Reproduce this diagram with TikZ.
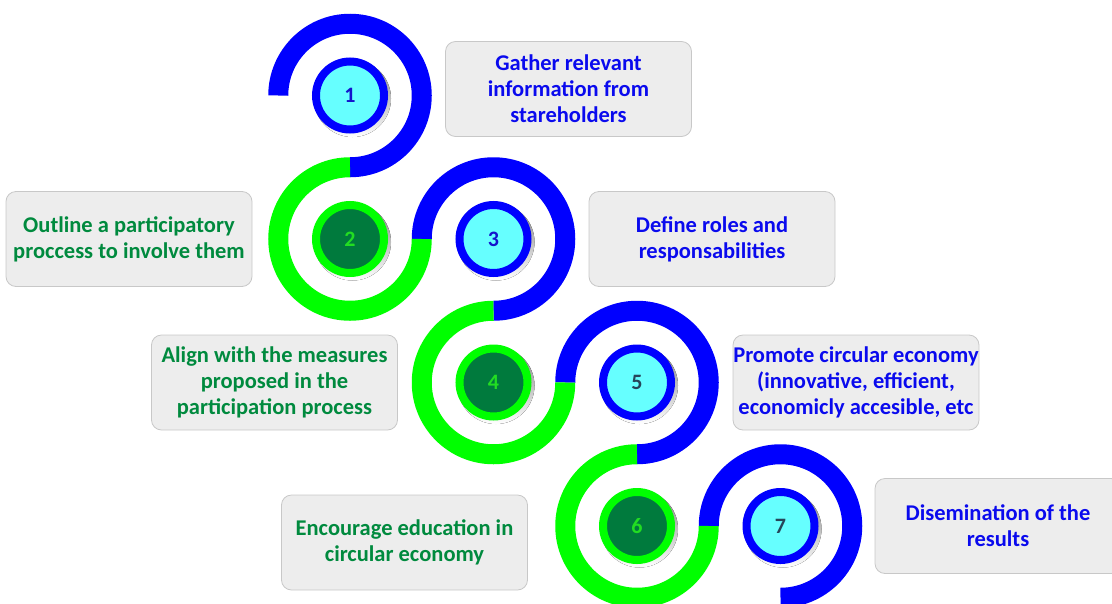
\documentclass[tikz,border=0pt]{standalone}
\usepackage{fontspec}
\setmainfont{Carlito}
\usetikzlibrary{calc}
\definecolor{ringblue}{HTML}{0000FF}
\definecolor{ringgreen}{HTML}{00FF00}
\definecolor{discblue}{HTML}{66FFFF}
\definecolor{discgreen}{HTML}{007A3D}
\definecolor{txtblue}{HTML}{0A0AEE}
\definecolor{txtgreen}{HTML}{008A3E}
\definecolor{numblue}{HTML}{1414CC}
\definecolor{numslate}{HTML}{26465A}
\definecolor{numgreen}{HTML}{22DD22}
\definecolor{boxfill}{HTML}{EDEDED}
\definecolor{boxline}{HTML}{C8C8C8}
\definecolor{shade}{HTML}{BDBDBD}
\begin{document}
\begin{tikzpicture}[x=1pt,y=1pt,
  band/.style={line width=20pt},
  numdisc/.style={circle, minimum size=68pt, inner sep=0pt, line width=8pt,
    font=\fontsize{22}{24}\selectfont\bfseries},
  oddnum/.style={numdisc, draw=ringblue, fill=discblue},
  evennum/.style={numdisc, draw=ringgreen, fill=discgreen, text=numgreen},
  infobox/.style={rounded corners=10pt, draw=boxline, line width=0.8pt,
    fill=boxfill, minimum width=246pt, minimum height=95pt, align=center,
    inner sep=0pt, font=\fontsize{22.5}{26}\selectfont\bfseries},
  bluetext/.style={infobox, text=txtblue},
  greentext/.style={infobox, text=txtgreen},
]
\useasboundingbox (0,0) rectangle (1112,-603);
\def\r{71.75}

% centres of the numbered discs
\coordinate (c1) at (350,-95.5);
\coordinate (c2) at (350,-239);
\coordinate (c3) at (493.5,-239);
\coordinate (c4) at (493.5,-382.5);
\coordinate (c5) at (637,-382.5);
\coordinate (c6) at (637,-526);
\coordinate (c7) at (780.5,-526);

% soft shadows under the discs
\foreach \i in {1,...,7}
  \fill[shade] ([shift={(2.5,-3)}]c\i) circle (38.5);

% numbered discs
\node[oddnum, text=numblue]  (n1) at (c1) {1};
\node[evennum]               (n2) at (c2) {2};
\node[oddnum, text=numblue]  (n3) at (c3) {3};
\node[evennum]               (n4) at (c4) {4};
\node[oddnum, text=numslate] (n5) at (c5) {5};
\node[evennum]               (n6) at (c6) {6};
\node[oddnum, text=numslate] (n7) at (c7) {7};

% the winding band: blue arcs turn clockwise, green arcs counter-clockwise
\foreach \i in {1,3,5,7}
  \draw[band, ringblue] ($(n\i)+(-\r,0)$) arc[start angle=180, end angle=-90, radius=\r];
\foreach \i in {2,4,6}
  \draw[band, ringgreen] ($(n\i)+(0,\r)$) arc[start angle=90, end angle=360, radius=\r];

% step descriptions
\node[bluetext]  (b1) at (568.5,-89)  {Gather relevant\\information from\\stareholders};
\node[greentext] (b2) at (129,-239)   {Outline a participatory\\proccess to involve them};
\node[bluetext]  (b3) at (712,-239)   {Define roles and\\responsabilities};
\node[greentext] (b4) at (274.5,-382.5) {Align with the measures\\proposed in the\\participation process};
\node[bluetext]  (b5) at (856,-382.5) {Promote circular economy\\(innovative, efficient,\\economicly accesible, etc};
\node[greentext] (b6) at (404.5,-542.5) {Encourage education in\\circular economy};
\node[bluetext]  (b7) at (998,-526)   {Disemination of the\\results};
\end{tikzpicture}
\end{document}
